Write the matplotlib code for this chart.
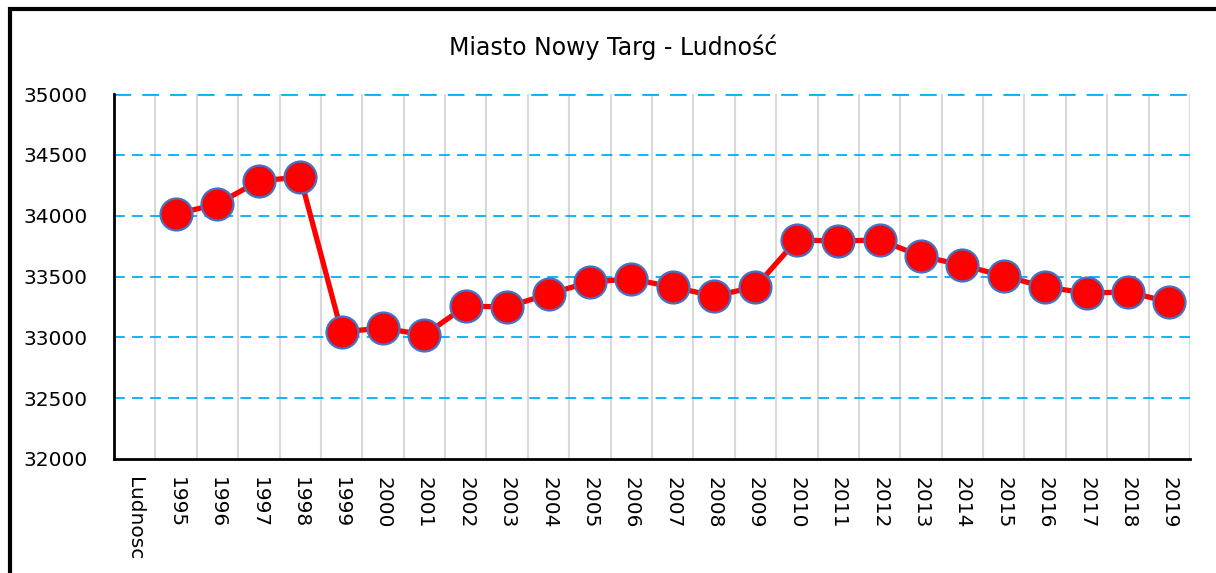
import matplotlib.pyplot as plt
from matplotlib.patches import Rectangle
import numpy as np

# kategorie na osi x (pierwsza pusta - nazwa serii)
categories = ['Ludnosc', '1995', '1996', '1997', '1998', '1999', '2000', '2001', '2002',
              '2003', '2004', '2005', '2006', '2007', '2008', '2009', '2010', '2011',
              '2012', '2013', '2014', '2015', '2016', '2017', '2018', '2019']
years = categories[1:]
population = [34014, 34096, 34285, 34318, 33044, 33077, 33019, 33257, 33249, 33356,
              33455, 33480, 33414, 33340, 33414, 33800, 33792, 33800, 33668, 33594,
              33504, 33414, 33364, 33373, 33290]
yticks = [32000, 32500, 33000, 33500, 34000, 34500, 35000]

fig = plt.figure(figsize=(12.16, 5.73), dpi=100)
ax = fig.add_axes([114/1216, 1-459/573, (1190-114)/1216, (459-94)/573])

x = np.arange(len(categories))
ax.plot(x[1:], population, color='#ff0000', lw=3.8, marker='o', markersize=23,
        markerfacecolor='#ff0000', markeredgecolor='#4472c4', markeredgewidth=1.6, zorder=3)

ax.set_xlim(-0.5, len(categories) - 0.5)
ax.set_ylim(32000, 35000)
ax.set_yticks(yticks)
ax.set_yticklabels([str(v) for v in yticks], fontsize=14.5)
ax.set_xticks(x)
ax.set_xticklabels(categories, rotation=270, fontsize=14.5, va='top', ha='center')
ax.tick_params(axis='both', length=0)
ax.tick_params(axis='y', pad=19)
ax.tick_params(axis='x', pad=13)

# siatka
for b in np.arange(0.5, len(categories) - 0.5):
    ax.axvline(b, color='#d9d9d9', lw=1.5, zorder=1)
ax.axvline(len(categories) - 0.5, color='#d9d9d9', lw=1.5, zorder=1)
for v in yticks[1:]:
    ax.axhline(v, color='#00b0f0', lw=1.3 if v < 35000 else 2, ls=(0, (6, 4)), zorder=1)

ax.spines['top'].set_visible(False)
ax.spines['right'].set_visible(False)
ax.spines['left'].set_linewidth(2)
ax.spines['bottom'].set_linewidth(2)

fig.text(613/1216, 1-47/573, 'Miasto Nowy Targ - Ludność', ha='center', va='center', fontsize=17)

# ramka wykresu
fig.patches.append(Rectangle((9.5/1216, -0.1), 1.2, 1 - 9.5/573 + 0.1, transform=fig.transFigure,
                             fill=False, edgecolor='black', lw=3))

fig.savefig('out.png', dpi=100)
